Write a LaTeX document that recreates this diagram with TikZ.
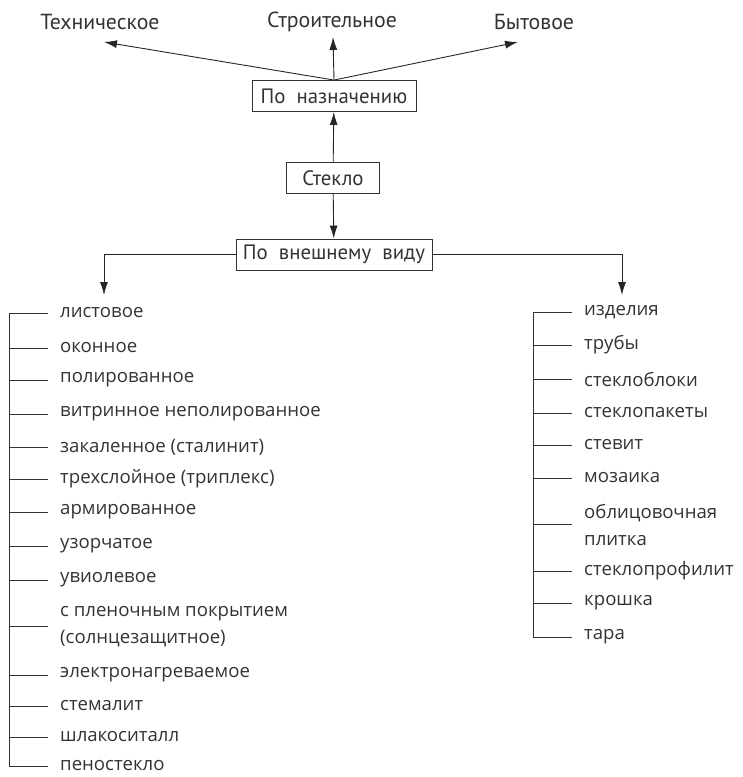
\documentclass[tikz,border=0pt]{standalone}
\usepackage{fontspec}
\setmainfont{Open Sans}
\newfontfamily\headfont{PT Sans}
\usetikzlibrary{arrows.meta}
\definecolor{ink}{HTML}{333333}

\begin{document}
\begin{tikzpicture}[x=1pt, y=-1pt,
  head/.style={font=\headfont\fontsize{21.8}{24}\selectfont, text=ink, inner sep=0pt},
  box/.style={draw=ink, line width=0.9pt, font=\headfont\fontsize{20.8}{24}\selectfont,
              text=ink, minimum width=#1, minimum height=31pt, inner sep=0pt},
  item/.style={font=\fontsize{18.6}{27}\selectfont, text=ink, anchor=west,
               inner sep=0pt, align=left},
  arr/.style={-{Latex[length=13pt, width=8pt]}, line width=0.9pt, draw=black!85},
  tick/.style={line width=0.9pt, draw=ink}
]
  \useasboundingbox (0,0) rectangle (743,777);
  \clip (0,0) rectangle (743,777);

  %-- Назначение
  \node[head] (tech)  at (100, 22) {Техническое};
  \node[head] (build) at (332, 22) {Строительное};
  \node[head] (home)  at (534, 22) {Бытовое};

  %-- Рамки
  \node[box=164pt] (purpose) at (334, 96)    {По~~назначению};
  \node[box=93pt]  (glass)   at (333, 178)   {Стекло};
  \node[box=196pt] (look)    at (334, 254.5) {По~~внешнему~~виду};

  \coordinate (lefttip)  at (104, 295);
  \coordinate (righttip) at (622, 295);
  \coordinate (lbar) at (9, 0);
  \coordinate (rbar) at (533, 0);

  %-- Листовое стекло и изделия
  \node[item] (l1)  at (60, 313)   {листовое};
  \node[item] (l2)  at (60, 348)   {оконное};
  \node[item] (l3)  at (60, 380)   {полированное};
  \node[item] (l4)  at (60, 414)   {витринное неполированное};
  \node[item] (l5)  at (60, 447)   {закаленное (сталинит)};
  \node[item] (l6)  at (60, 479)   {трехслойное (триплекс)};
  \node[item] (l7)  at (60, 512)   {армированное};
  \node[item] (l8)  at (60, 546)   {узорчатое};
  \node[item] (l9)  at (60, 580)   {увиолевое};
  \node[item] (l10) at (60, 626.5) {с пленочным покрытием\\(солнцезащитное)};
  \node[item] (l11) at (60, 675)   {электронагреваемое};
  \node[item] (l12) at (60, 706)   {стемалит};
  \node[item] (l13) at (60, 737)   {шлакоситалл};
  \node[item] (l14) at (60, 766)   {пеностекло};

  \node[item] (r1)  at (584, 312)   {изделия};
  \node[item] (r2)  at (584, 345)   {трубы};
  \node[item] (r3)  at (584, 379)   {стеклоблоки};
  \node[item] (r4)  at (584, 413)   {стеклопакеты};
  \node[item] (r5)  at (584, 445)   {стевит};
  \node[item] (r6)  at (584, 478)   {мозаика};
  \node[item] (r7)  at (584, 524.5) {облицовочная\\плитка};
  \node[item] (r8)  at (584, 571)   {стеклопрофилит};
  \node[item] (r9)  at (584, 603)   {крошка};
  \node[item] (r10) at (584, 637)   {тара};

  %-- Стрелки
  \draw[arr] (purpose.north) -- ([shift={(4,20)}]tech.center);
  \draw[arr] (purpose.north) -- ([shift={(1,15)}]build.center);
  \draw[arr] (purpose.north) -- ([shift={(-16,20)}]home.center);
  \draw[arr] (glass) -- (purpose);
  \draw[arr] (glass) -- (look);
  \draw[arr] (look.west) -| (lefttip);
  \draw[arr] (look.east) -| (righttip);

  %-- Скобки
  \draw[tick] (l1.west -| lbar) -- (l14.west -| lbar);
  \draw[tick] (r1.west -| rbar) -- (r10.west -| rbar);
  \foreach \n in {l1,l2,l3,l4,l5,l6,l7,l8,l9,l10,l11,l12,l13,l14}
    \draw[tick] (\n.west -| lbar) -- ([xshift=-12pt]\n.west);
  \foreach \n in {r1,r2,r3,r4,r5,r6,r7,r8,r9,r10}
    \draw[tick] (\n.west -| rbar) -- ([xshift=-12pt]\n.west);
\end{tikzpicture}
\end{document}
